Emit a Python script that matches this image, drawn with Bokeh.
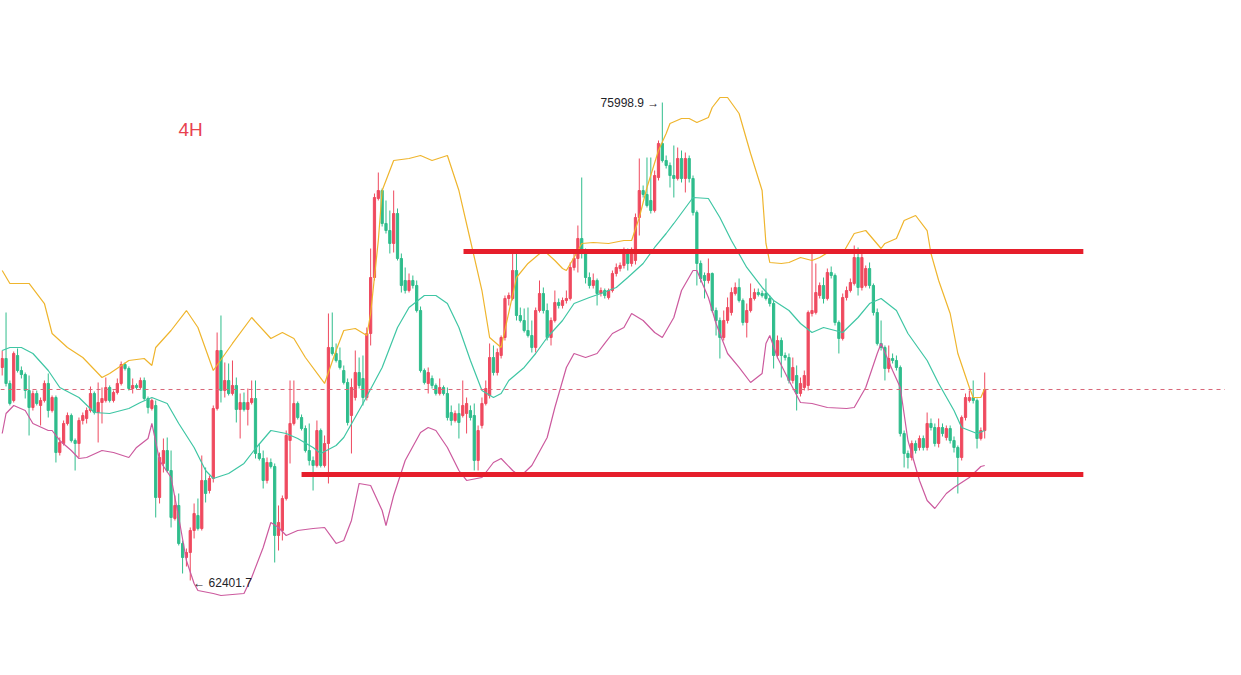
from bokeh.plotting import figure
from bokeh.models import Range1d, Label, Span
from bokeh.embed import file_html
from bokeh.resources import INLINE

# ---------------- data (4H candles, price in USDT) ----------------
open_ = [
    68461, 68717, 68006, 67522, 68802, 68375, 68261, 67806, 67323, 67721,
    67380, 67522, 68006, 67237, 67607, 66042, 66298, 66868, 67095, 66384,
    66298, 66953, 67010, 67237, 67721, 67180, 67465, 67522, 67892, 67522,
    67749, 68006, 68546, 68432, 67863, 67949, 67892, 68091, 67579, 67294,
    67380, 64762, 65730, 66099, 65530, 64165, 64535, 63454, 63055, 63197,
    63823, 64250, 63880, 65246, 64961, 65303, 67294, 68944, 67806, 68091,
    67721, 67949, 67266, 67465, 67266, 67465, 67579, 66014, 65872, 65246,
    65758, 65644, 63681, 63823, 64733, 66384, 66868, 67437, 67038, 66725,
    66099, 65815, 65673, 66668, 65673, 66298, 69030, 68859, 68660, 68375,
    68034, 67095, 67607, 68318, 68148, 67607, 69428, 71021, 73269, 73496,
    72558, 72358, 71989, 72842, 71562, 70936, 70651, 70936, 70794, 70082,
    68375, 68006, 68148, 67949, 67721, 67892, 67721, 67180, 66953, 67152,
    67095, 67152, 67237, 67095, 65815, 66811, 67437, 67664, 68745, 68318,
    68802, 69314, 70424, 70424, 71220, 69940, 69798, 69513, 69371, 69030,
    70082, 70566, 70082, 69314, 69798, 70310, 70225, 70367, 70424, 71306,
    71562, 72131, 71704, 71021, 70794, 70936, 70566, 70651, 70452, 70651,
    71135, 71277, 71363, 71732, 71420, 71505, 72728, 73496, 73383, 73212,
    72927, 73866, 74834, 74350, 74208, 73923, 73838, 74407, 73838, 74407,
    73838, 72870, 71420, 71078, 70936, 71135, 70082, 69798, 69314, 69798,
    70025, 70566, 70737, 70367, 69741, 70082, 70424, 70594, 70566, 70566,
    70424, 70281, 68802, 69229, 68802, 68745, 68091, 68233, 67721, 67892,
    67949, 69997, 70025, 70509, 70794, 70424, 71164, 71078, 69741, 69286,
    70452, 70651, 70851, 71590, 70737, 70794, 71277, 70794, 70025, 69144,
    69030, 68432, 68717, 68660, 68461, 66583, 66014, 65900, 66298, 66185,
    66441, 66185, 66868, 66754, 66298, 66754, 66469, 66725, 66384, 66185,
    65900, 67038, 67522, 67607, 67522, 66441, 66668]

close = [
    68717, 68006, 67437, 68859, 68375, 68261, 67806, 67323, 67721, 67437,
    67522, 68006, 67237, 67607, 66042, 66327, 66868, 67095, 66384, 66298,
    66953, 67095, 67237, 67721, 67180, 67465, 67579, 67892, 67522, 67749,
    68006, 68546, 68432, 67863, 67949, 67892, 68091, 67579, 67323, 67522,
    64762, 65900, 66099, 65530, 64193, 64535, 63454, 63055, 63197, 63823,
    64307, 63880, 65246, 64876, 65303, 67294, 68944, 67806, 68091, 67721,
    67949, 67266, 67465, 67266, 67465, 67579, 66014, 65872, 65246, 65758,
    65644, 63681, 64051, 64733, 66526, 66868, 67437, 67038, 66725, 66099,
    65815, 65673, 66668, 65673, 66298, 69030, 68859, 68660, 68461, 68034,
    66896, 67892, 68318, 67949, 67607, 69428, 71021, 73297, 73496, 72558,
    72358, 71989, 72842, 71562, 70794, 70651, 70936, 70794, 70082, 68375,
    68034, 68318, 67949, 67721, 67892, 67721, 67038, 66953, 67152, 66896,
    67380, 67437, 67038, 65815, 66668, 67437, 67863, 68745, 68318, 68887,
    69314, 70424, 70509, 71220, 69940, 69798, 69513, 69371, 69030, 70082,
    70566, 70082, 69314, 69798, 70310, 70225, 70367, 70424, 71306, 71562,
    72131, 71704, 71021, 70794, 70936, 70566, 70651, 70509, 70651, 71135,
    71306, 71363, 71732, 71420, 71789, 72728, 73496, 73383, 73070, 72927,
    73923, 74834, 74350, 74208, 73923, 73838, 74407, 73838, 74407, 73838,
    72870, 71420, 70993, 70936, 71135, 70082, 69798, 69314, 69798, 70167,
    70594, 70737, 70367, 69741, 70082, 70424, 70594, 70538, 70509, 70424,
    70281, 68802, 69229, 68802, 68745, 68091, 68461, 67721, 68006, 68233,
    70025, 70082, 70594, 70794, 70424, 71164, 71078, 69741, 69286, 70452,
    70651, 70879, 71590, 70737, 71590, 71277, 70794, 70025, 69144, 69030,
    68432, 68717, 68660, 68461, 66583, 66014, 65900, 66298, 66099, 66441,
    66185, 66868, 66754, 66298, 66754, 66583, 66725, 66384, 66185, 65900,
    67038, 67607, 67607, 67522, 66441, 66668, 67835]

high = [
    68944, 70025, 68091, 68916, 69002, 68490, 68318, 68233, 67806, 67806,
    67607, 68091, 68290, 67664, 67664, 66469, 66953, 67180, 67152, 66441,
    67038, 67180, 67323, 67920, 67778, 68034, 67892, 68176, 67949, 67806,
    68148, 68631, 68603, 68490, 68148, 68006, 68176, 68176, 67636, 67579,
    67522, 66042, 66441, 66469, 66099, 64819, 64876, 63539, 63311, 63909,
    64592, 64733, 65957, 65616, 65388, 67380, 69456, 69940, 68603, 68575,
    68660, 68176, 67721, 67749, 67863, 68091, 68091, 66298, 66099, 65900,
    65872, 65730, 64535, 64819, 66668, 68091, 68091, 67494, 67123, 66811,
    66868, 65929, 66953, 66725, 66526, 69997, 70025, 69144, 69030, 68518,
    68148, 68148, 68944, 68745, 68802, 69599, 71846, 73411, 74008, 73553,
    73212, 72927, 73496, 72984, 71704, 71306, 71135, 71078, 70936, 70196,
    68432, 68461, 68233, 68006, 68148, 67949, 67892, 67380, 67237, 67437,
    68091, 67607, 67380, 67437, 66811, 67607, 68091, 69144, 69087, 69002,
    69371, 70509, 70594, 71704, 71704, 70167, 70139, 70167, 69798, 70167,
    70936, 70737, 70281, 69883, 70651, 70424, 70452, 70651, 71448, 71704,
    72501, 73866, 71846, 71164, 71135, 70993, 70737, 70708, 70708, 71220,
    71420, 71448, 71875, 71846, 71875, 72842, 74407, 73639, 74435, 74435,
    74065, 74919, 75998.9, 74492, 74293, 74777, 74720, 74634, 74577, 74492,
    73923, 72927, 71505, 71164, 71562, 71164, 70167, 69883, 70082, 70452,
    70737, 70879, 70993, 70424, 70281, 70851, 70708, 70708, 70651, 70993,
    70509, 70367, 69371, 69314, 68887, 68859, 68745, 68518, 68176, 68375,
    70082, 71704, 71420, 70879, 71021, 71277, 71334, 71135, 69798, 70566,
    70765, 70993, 71932, 71875, 71732, 71363, 71448, 70851, 70139, 69798,
    69087, 69087, 68859, 68802, 68518, 66668, 66099, 66384, 66384, 66526,
    66526, 67180, 67010, 66868, 67010, 66868, 66811, 66811, 66498, 66242,
    67095, 67721, 67806, 68091, 67579, 66754, 68318]

low = [
    68233, 67921, 67380, 67465, 68318, 68148, 67579, 66526, 67237, 67380,
    66811, 67465, 67038, 67180, 65758, 65957, 66242, 66811, 66327, 65530,
    65900, 66839, 66868, 67180, 67123, 66327, 66868, 67465, 67465, 67465,
    67693, 67949, 68375, 67806, 67721, 67835, 67835, 67522, 67152, 67237,
    64193, 64592, 65473, 65473, 63909, 64108, 63397, 62600, 62799, 62401.7,
    63596, 63823, 63823, 64620, 64876, 65189, 67237, 67465, 67607, 67664,
    67664, 66896, 66441, 67209, 66811, 67408, 65872, 65815, 65018, 65161,
    65587, 62913, 63254, 63539, 64677, 65730, 66811, 66981, 66668, 66042,
    65673, 64961, 65616, 65616, 65616, 65161, 68802, 68603, 68404, 67977,
    66811, 66014, 67522, 67863, 67380, 67522, 69087, 70936, 73212, 72472,
    72273, 71704, 71732, 71505, 70594, 70566, 70594, 70708, 70025, 68318,
    67977, 67721, 67863, 67664, 67664, 67664, 66953, 66811, 66896, 66441,
    67038, 66583, 66953, 65530, 65530, 66725, 67380, 67579, 68233, 68233,
    68717, 69229, 70225, 70367, 69798, 69741, 69456, 69314, 68887, 68887,
    70025, 69997, 69229, 69087, 69741, 70139, 70139, 70281, 70367, 71220,
    71164, 71562, 70851, 70708, 70708, 70225, 70481, 70424, 70395, 70594,
    71050, 71192, 71277, 71220, 71334, 71391, 72216, 73297, 73013, 72842,
    72870, 73781, 74293, 74122, 73582, 73297, 73781, 73724, 73440, 73724,
    72785, 70794, 70879, 70424, 70851, 70025, 69371, 68717, 69229, 69713,
    69940, 70509, 70310, 69656, 69314, 70025, 70367, 70481, 70452, 70367,
    70196, 68432, 68717, 68176, 68660, 68006, 68006, 67237, 67636, 67806,
    67806, 69912, 69969, 70424, 70281, 70367, 70993, 69656, 68859, 69229,
    70367, 70594, 70794, 70509, 70651, 70737, 70708, 69940, 69087, 68944,
    68091, 68318, 68575, 68375, 66498, 65616, 65587, 65815, 66014, 66099,
    66099, 66099, 66668, 66213, 66185, 66498, 66384, 66298, 66042, 64876,
    65815, 66953, 67465, 67437, 66156, 66384, 66441]

# Bollinger bands (candle index, price)
boll_up_idx = [0, 2, 7, 11, 13, 17, 21, 26, 28, 33, 37, 39, 40, 44, 48, 51, 55, 60, 65, 70,
               73, 76, 79, 84, 87, 89, 92, 95, 96, 98, 99, 102, 106, 109, 112, 116, 119, 122,
               125, 127, 130, 134, 137, 141, 142, 144, 146, 147, 149, 151, 154, 158, 162, 164,
               166, 168, 171, 173, 174, 177, 179, 181, 184, 185, 187, 189, 192, 195, 198, 199,
               200, 203, 205, 208, 211, 213, 216, 219, 222, 225, 229, 230, 233, 235, 238, 241,
               242, 244, 247, 249, 252, 253, 255, 256]
boll_up = [71220, 70851, 70851, 70281, 69428, 69030, 68745, 68176, 68290, 68660, 68717, 68518,
           69030, 69513, 70082, 69599, 68375, 69144, 69883, 69286, 69456, 69286, 68745, 68006,
           68944, 69513, 69570, 69371, 69997, 72074, 73496, 74350, 74407, 74492, 74350, 74492,
           73496, 72074, 70651, 69314, 69030, 71021, 71420, 71789, 71704, 71505, 71277, 71220,
           71590, 71989, 72017, 71989, 72074, 72074, 72728, 73582, 74634, 75118, 75402, 75545,
           75545, 75431, 75573, 75858, 76142, 76142, 75687, 74549, 73496, 71989, 71448, 71420,
           71448, 71590, 71505, 71590, 71789, 71704, 72273, 72358, 71846, 71989, 72131, 72643,
           72785, 72358, 71704, 70936, 69997, 68859, 67892, 67607, 67607, 67863]

boll_mid_idx = [0, 2, 5, 8, 12, 15, 20, 24, 28, 33, 36, 39, 43, 46, 50, 53, 55, 59, 63, 66,
                70, 74, 77, 81, 83, 87, 89, 94, 99, 103, 106, 110, 113, 116, 119, 122, 125, 128,
                130, 132, 136, 139, 142, 146, 149, 153, 156, 160, 163, 167, 170, 173, 175, 180,
                184, 187, 190, 194, 198, 201, 205, 208, 211, 214, 219, 223, 226, 229, 233, 236,
                241, 244, 248, 250, 254, 256]
boll_mid = [68944, 69030, 69030, 68859, 68375, 67892, 67607, 67180, 67152, 67294, 67465, 67607,
            67437, 66868, 66185, 65530, 65303, 65445, 65730, 66156, 66668, 66583, 66441, 66185,
            66014, 66242, 66469, 67437, 68461, 69599, 70167, 70509, 70509, 70281, 69599, 68660,
            67806, 67607, 67721, 68091, 68461, 68859, 69314, 69798, 70281, 70452, 70566, 70737,
            71021, 71420, 71875, 72273, 72558, 73297, 73269, 72728, 72074, 71306, 70737, 70367,
            70082, 69713, 69456, 69599, 69456, 69883, 70281, 70424, 70082, 69428, 68660, 68006,
            67237, 66754, 66583, 66668]

boll_dn_idx = [0, 1, 3, 6, 8, 12, 13, 15, 18, 20, 22, 26, 29, 33, 35, 38, 39, 41, 44, 46, 48,
               50, 51, 55, 57, 63, 65, 68, 70, 72, 74, 77, 81, 84, 87, 89, 91, 93, 96, 99, 100,
               102, 105, 109, 111, 113, 116, 119, 121, 125, 128, 130, 133, 135, 138, 142, 144,
               147, 149, 152, 155, 157, 159, 162, 164, 167, 170, 172, 175, 177, 180, 181, 184,
               186, 189, 192, 195, 198, 199, 200, 202, 205, 208, 211, 215, 220, 222, 225, 228,
               229, 232, 234, 236, 239, 241, 243, 246, 248, 252, 255, 256]
boll_dn = [66583, 67152, 67380, 67237, 66868, 66668, 66668, 66384, 66099, 65872, 65900, 66099,
           66042, 65900, 66185, 66441, 66868, 65815, 65331, 64193, 62970, 62316, 62116, 62031,
           61974, 62031, 62486, 63340, 64051, 63909, 63681, 63823, 63880, 63909, 63454, 63539,
           64108, 65161, 65104, 64392, 63966, 64819, 65815, 66611, 66754, 66668, 66185, 65530,
           65246, 65331, 65758, 65872, 65530, 65360, 65673, 66469, 67323, 68461, 68859, 68745,
           68859, 69144, 69428, 69599, 69997, 69798, 69456, 69314, 69883, 70651, 71220, 71220,
           70452, 69713, 68859, 68461, 68034, 68290, 69144, 69371, 68745, 68091, 67465, 67437,
           67323, 67294, 67323, 67892, 68859, 69144, 68375, 67892, 66384, 65246, 64677, 64449,
           64876, 65047, 65331, 65644, 65673]

key_levels = [71760, 65416]          # hand-drawn resistance / support
timeframe = "4H"

# ---------------- styling ----------------
RED = "#ef4a5f"
GREEN = "#2fbd8c"
W, H = 1225, 659

p = figure(width=W, height=H, output_backend="svg", toolbar_location=None,
           x_range=Range1d(-0.443, 318.74), y_range=Range1d(60153, 78902),
           min_border=0, x_axis_location=None, y_axis_location=None)
p.grid.visible = False
p.outline_line_color = None
p.background_fill_color = "white"
p.border_fill_color = "white"

idx = list(range(len(close)))
colors = [RED if c >= o else GREEN for o, c in zip(open_, close)]
tops = [max(o, c) for o, c in zip(open_, close)]
bots = [min(o, c) for o, c in zip(open_, close)]

p.segment(x0=idx, y0=low, x1=idx, y1=high, line_color=colors, line_width=1)
p.vbar(x=idx, width=0.58, top=tops, bottom=bots, fill_color=colors,
       line_color=colors, line_width=1)

p.line(boll_up_idx, boll_up, line_color="#efb52d", line_width=1.2)
p.line(boll_mid_idx, boll_mid, line_color="#3fc6a4", line_width=1.2)
p.line(boll_dn_idx, boll_dn, line_color="#cc5a9e", line_width=1.2)

# last-price dashed line
p.add_layout(Span(location=close[-1], dimension="width", line_color="#d9687a",
                  line_dash="4 4", line_width=1))

# support / resistance
p.segment(x0=[120.2, 78.0], x1=[281.7, 281.7], y0=key_levels, y1=key_levels,
          line_color="#e61e2b", line_width=5)

hi_i = high.index(max(high))
lo_i = low.index(min(low))
p.add_layout(Label(x=hi_i, y=high[hi_i], text=f"{high[hi_i]} \u2192", text_align="right",
                   text_baseline="middle", x_offset=-3, text_font_size="12px",
                   text_color="#1e2329", text_font="Liberation Sans"))
p.add_layout(Label(x=lo_i, y=low[lo_i], text=f"\u2190 {low[lo_i]}", text_align="left",
                   text_baseline="middle", x_offset=3, y_offset=-3, text_font_size="12px",
                   text_color="#1e2329", text_font="Liberation Sans"))
p.add_layout(Label(x=178, y=530, x_units="screen", y_units="screen", text=timeframe,
                   text_align="left", text_baseline="middle", text_font_size="19px",
                   text_color="#e8414f", text_font="Liberation Sans"))

open("out.html", "w").write(file_html(p, INLINE))
